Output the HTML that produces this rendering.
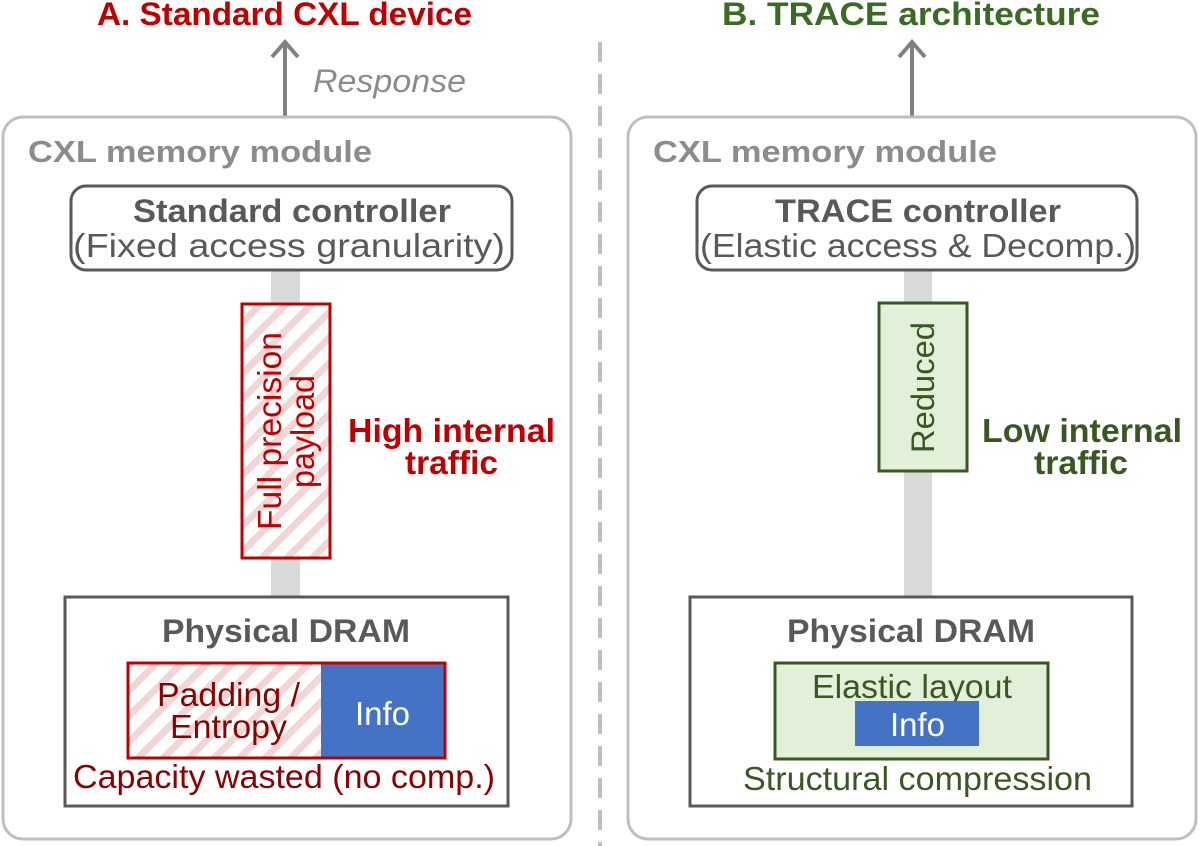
<!DOCTYPE html>
<html><head><meta charset="utf-8"><style>
html,body{margin:0;padding:0;background:#fff;}
svg{display:block;font-family:"Liberation Sans",Arial,sans-serif;}
</style></head><body>
<svg width="1199" height="846" viewBox="0 0 1199 846" xmlns="http://www.w3.org/2000/svg">
<defs>
<pattern id="hatch" patternUnits="userSpaceOnUse" width="18" height="18" patternTransform="rotate(45)">
<rect width="18" height="18" fill="#fff"/>
<rect x="0" y="0" width="7" height="18" fill="#f2d6d6"/>
</pattern>
</defs>
<text x="97" y="25" textLength="375" lengthAdjust="spacingAndGlyphs" font-size="32" font-weight="bold" fill="#c00000">A. Standard CXL device</text>
<text x="722" y="25" textLength="378" lengthAdjust="spacingAndGlyphs" font-size="32" font-weight="bold" fill="#3a6b23">B. TRACE architecture</text>
<line x1="600" y1="42" x2="600" y2="846" stroke="#bfbfbf" stroke-width="4" stroke-dasharray="20,12"/>
<line x1="285" y1="118" x2="285" y2="44" stroke="#808080" stroke-width="4"/>
<polyline points="272,57 285,42 298,57" fill="none" stroke="#808080" stroke-width="4"/>
<line x1="912" y1="118" x2="912" y2="44" stroke="#808080" stroke-width="4"/>
<polyline points="899,57 912,42 925,57" fill="none" stroke="#808080" stroke-width="4"/>
<text x="313" y="92" textLength="153" lengthAdjust="spacingAndGlyphs" font-size="32" font-style="italic" fill="#8c8c8c">Response</text>
<rect x="3" y="117" width="568" height="722" rx="20" fill="none" stroke="#bfbfbf" stroke-width="3"/>
<rect x="628" y="117" width="568" height="722" rx="20" fill="none" stroke="#bfbfbf" stroke-width="3"/>
<text x="28" y="162" textLength="344" lengthAdjust="spacingAndGlyphs" font-size="31" font-weight="bold" fill="#8c8c8c">CXL memory module</text>
<text x="653" y="162" textLength="344" lengthAdjust="spacingAndGlyphs" font-size="31" font-weight="bold" fill="#8c8c8c">CXL memory module</text>
<rect x="271" y="270" width="29" height="328" fill="#d9d9d9"/>
<rect x="904" y="270" width="28" height="328" fill="#d9d9d9"/>
<rect x="71" y="186" width="441" height="84" rx="15" fill="#fff" stroke="#595959" stroke-width="3"/>
<text x="133" y="222" textLength="318" lengthAdjust="spacingAndGlyphs" font-size="32" font-weight="bold" fill="#595959">Standard controller</text>
<text x="73" y="257" textLength="432" lengthAdjust="spacingAndGlyphs" font-size="33" fill="#595959">(Fixed access granularity)</text>
<rect x="697" y="186" width="440" height="84" rx="15" fill="#fff" stroke="#595959" stroke-width="3"/>
<text x="775" y="222" textLength="286" lengthAdjust="spacingAndGlyphs" font-size="32" font-weight="bold" fill="#595959">TRACE controller</text>
<text x="700" y="257" textLength="436" lengthAdjust="spacingAndGlyphs" font-size="33" fill="#595959">(Elastic access &amp; Decomp.)</text>
<rect x="242" y="304" width="88" height="254" fill="url(#hatch)" stroke="#c00000" stroke-width="3"/>
<text transform="translate(281,530) rotate(-90)" textLength="198" lengthAdjust="spacingAndGlyphs" font-size="33" fill="#c00000">Full precision</text>
<text transform="translate(314,488) rotate(-90)" textLength="113" lengthAdjust="spacingAndGlyphs" font-size="33" fill="#c00000">payload</text>
<text x="348" y="442" textLength="207" lengthAdjust="spacingAndGlyphs" font-size="33" font-weight="bold" fill="#c00000">High internal</text>
<text x="405" y="474" textLength="93" lengthAdjust="spacingAndGlyphs" font-size="33" font-weight="bold" fill="#c00000">traffic</text>
<rect x="879" y="303" width="88" height="168" fill="#e2f0d9" stroke="#385723" stroke-width="3"/>
<text transform="translate(934,453) rotate(-90)" textLength="131" lengthAdjust="spacingAndGlyphs" font-size="32" fill="#385723">Reduced</text>
<text x="982" y="442" textLength="200" lengthAdjust="spacingAndGlyphs" font-size="33" font-weight="bold" fill="#385723">Low internal</text>
<text x="1034" y="474" textLength="94" lengthAdjust="spacingAndGlyphs" font-size="33" font-weight="bold" fill="#385723">traffic</text>
<rect x="65" y="597" width="443" height="209" fill="#fff" stroke="#595959" stroke-width="3"/>
<text x="162" y="642" textLength="248" lengthAdjust="spacingAndGlyphs" font-size="32" font-weight="bold" fill="#595959">Physical DRAM</text>
<rect x="128" y="663" width="193" height="95" fill="url(#hatch)"/>
<rect x="321" y="663" width="124" height="95" fill="#4472c4"/>
<rect x="128" y="663" width="317" height="95" fill="none" stroke="#c00000" stroke-width="3"/>
<text x="157" y="706" textLength="143" lengthAdjust="spacingAndGlyphs" font-size="33" fill="#8b0000">Padding /</text>
<text x="170" y="738" textLength="117" lengthAdjust="spacingAndGlyphs" font-size="33" fill="#8b0000">Entropy</text>
<text x="355" y="725" textLength="55" lengthAdjust="spacingAndGlyphs" font-size="33" fill="#fff">Info</text>
<text x="73" y="788" textLength="422" lengthAdjust="spacingAndGlyphs" font-size="33" fill="#8b0000">Capacity wasted (no comp.)</text>
<rect x="690" y="597" width="442" height="209" fill="#fff" stroke="#595959" stroke-width="3"/>
<text x="787" y="642" textLength="248" lengthAdjust="spacingAndGlyphs" font-size="32" font-weight="bold" fill="#595959">Physical DRAM</text>
<rect x="775" y="663" width="273" height="96" fill="#e2f0d9" stroke="#385723" stroke-width="3"/>
<text x="812" y="698" textLength="200" lengthAdjust="spacingAndGlyphs" font-size="33" fill="#385723">Elastic layout</text>
<rect x="855" y="701" width="124" height="45" fill="#4472c4"/>
<text x="890" y="736" textLength="55" lengthAdjust="spacingAndGlyphs" font-size="33" fill="#fff">Info</text>
<text x="743" y="790" textLength="349" lengthAdjust="spacingAndGlyphs" font-size="33" fill="#385723">Structural compression</text>
</svg>
</body></html>
